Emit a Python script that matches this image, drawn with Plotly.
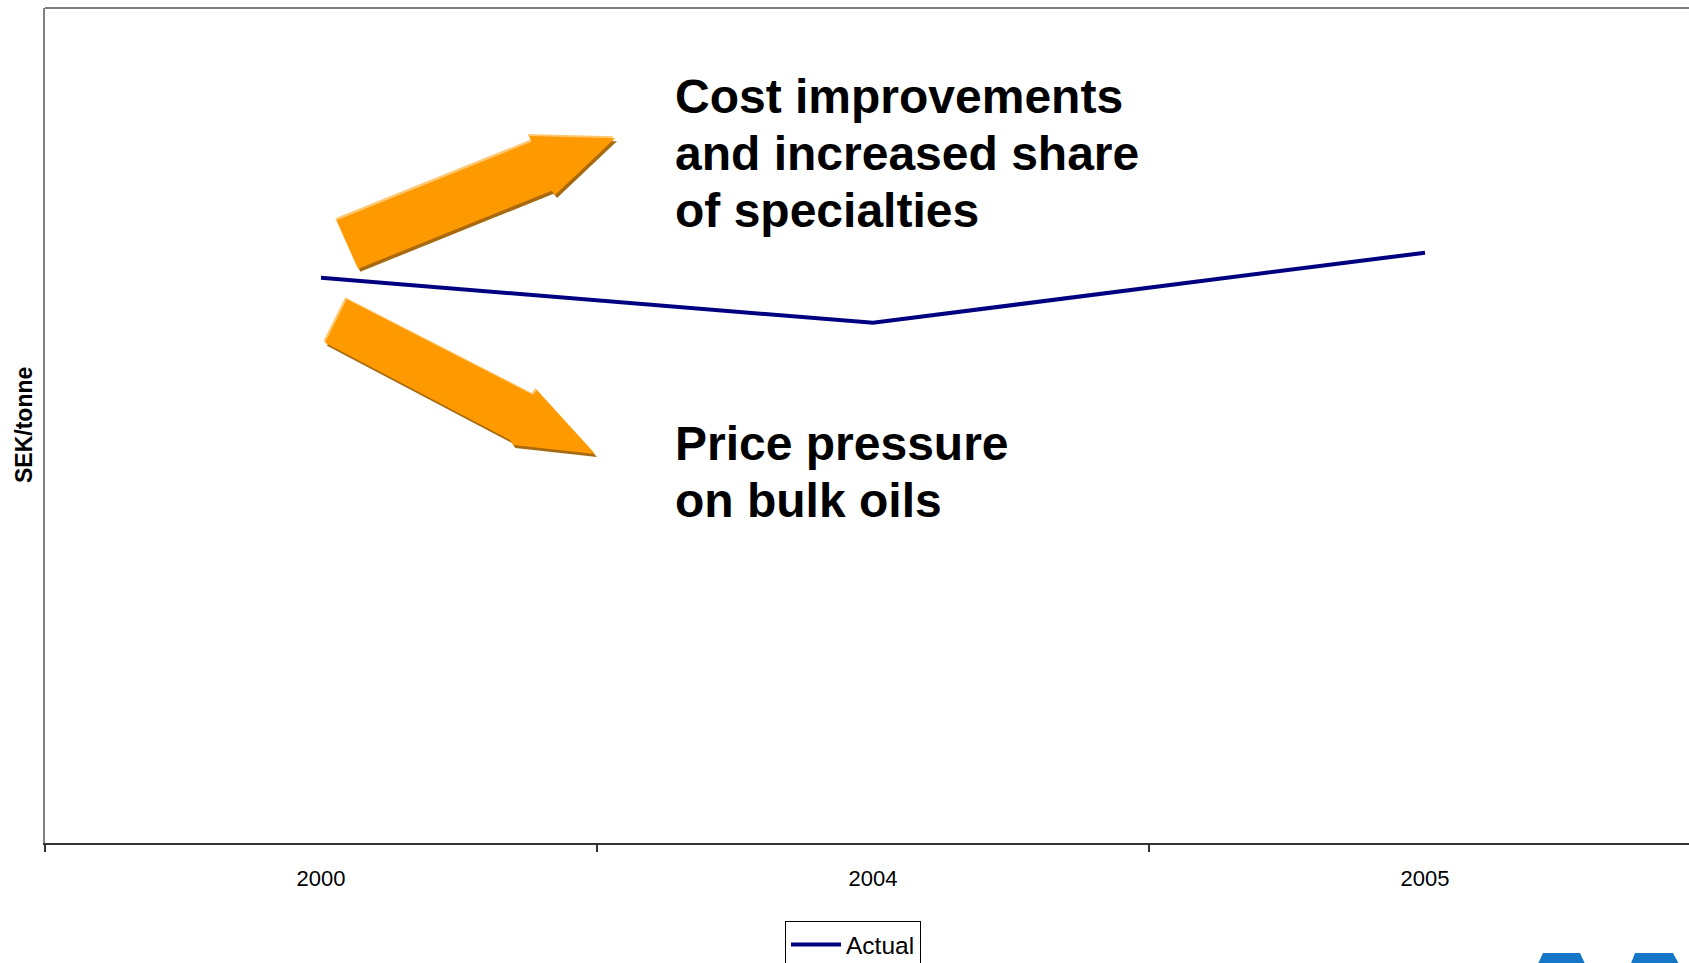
import plotly.graph_objects as go

# ---- data ----
years = ["2000", "2004", "2005"]
actual = [677, 623, 707]          # SEK/tonne (index, no scale shown)
series_name = "Actual"
y_title = "SEK/tonne"
text_up = ["Cost improvements", "and increased share", "of specialties"]
text_down = ["Price pressure", "on bulk oils"]

# ---- layout geometry (pixels) ----
W, H = 1689, 963
L, R, T, B = 45, 0, 8, 120
PW = W - L - R
PH = H - T - B


def px(x):
    return (x - L) / PW


def py(y):
    return (H - B - y) / PH


def path(pts, dx=0, dy=0):
    s = "M " + " L ".join(f"{px(x + dx):.5f},{py(y + dy):.5f}" for x, y in pts)
    return s + " Z"


fig = go.Figure()
fig.add_trace(go.Scatter(
    x=years, y=actual, mode="lines", name=series_name,
    line=dict(color="#000080", width=4),
))

# arrows (pixel outlines)
arrow_up = [(336.7, 220.3), (531.7, 141.7), (529.3, 136), (615, 138.3),
            (555, 195), (551.7, 190.7), (358.3, 268.7)]
arrow_down = [(346.7, 299.3), (533.3, 395), (536.7, 390), (595, 454),
              (513.3, 445), (510, 440), (325, 342.7)]

shapes = []
for pts in (arrow_up, arrow_down):
    shapes.append(dict(type="path", xref="paper", yref="paper", path=path(pts, -1.5, -2),
                       fillcolor="#FFC870", line=dict(width=0), layer="above"))
    shapes.append(dict(type="path", xref="paper", yref="paper", path=path(pts, 2, 3),
                       fillcolor="#A86A10", line=dict(width=0), layer="above"))
    shapes.append(dict(type="path", xref="paper", yref="paper", path=path(pts),
                       fillcolor="#FF9900", line=dict(width=0), layer="above"))

# top border
shapes.append(dict(type="line", xref="paper", yref="paper", x0=0, x1=1, y0=1, y1=1,
                   line=dict(color="#808080", width=2)))

# logo fragments at bottom right
logo1 = [(1543, 953), (1580, 953), (1586, 966), (1537, 966)]
logo2 = [(1635, 953), (1673, 953), (1680, 966), (1630, 966)]
for pts in (logo1, logo2):
    shapes.append(dict(type="path", xref="paper", yref="paper", path=path(pts),
                       fillcolor="#1677C8", line=dict(width=0)))

annotations = []
FS = 48
for i, t in enumerate(text_up):
    base = 113 + 57 * i
    annotations.append(dict(text=t, xref="paper", yref="paper", x=px(673), y=py(base - 0.3465 * FS),
                            xanchor="left", yanchor="middle", showarrow=False,
                            font=dict(family="Liberation Sans", size=FS, color="black", weight="bold")))
for i, t in enumerate(text_down):
    base = 460 + 57 * i
    annotations.append(dict(text=t, xref="paper", yref="paper", x=px(673), y=py(base - 0.3465 * FS),
                            xanchor="left", yanchor="middle", showarrow=False,
                            font=dict(family="Liberation Sans", size=FS, color="black", weight="bold")))

annotations.append(dict(text=y_title, xref="paper", yref="paper", x=px(24), y=py(425),
                        xanchor="center", yanchor="middle", textangle=-90, showarrow=False,
                        font=dict(family="Liberation Sans", size=23, color="black", weight="bold")))

fig.update_layout(
    width=W, height=H,
    margin=dict(l=L, r=R, t=T, b=B, pad=0, autoexpand=False),
    paper_bgcolor="white", plot_bgcolor="white",
    font=dict(family="Liberation Sans", color="black"),
    shapes=shapes, annotations=annotations,
    showlegend=True,
    legend=dict(x=px(785), y=py(921), xanchor="left", yanchor="top",
                orientation="h", bordercolor="black", borderwidth=1,
                bgcolor="white", font=dict(size=24.5, color="black"),
                itemwidth=50),
    xaxis=dict(type="category", range=[-0.5, -0.5 + PW / 552], showgrid=False,
               showline=True, linecolor="#333333", linewidth=2,
               ticks="outside", tickson="boundaries", ticklen=7, tickcolor="#333333",
               tickwidth=1.5, tickfont=dict(size=22, color="black"),
               ticklabelstandoff=15, zeroline=False),
    yaxis=dict(range=[0, 1000], showgrid=False, zeroline=False,
               showline=True, linecolor="#808080", linewidth=2,
               showticklabels=False, ticks=""),
)

fig.write_html("out.html", config={"displayModeBar": False},
               post_script="document.body.style.margin='0';document.body.style.overflow='hidden';")
